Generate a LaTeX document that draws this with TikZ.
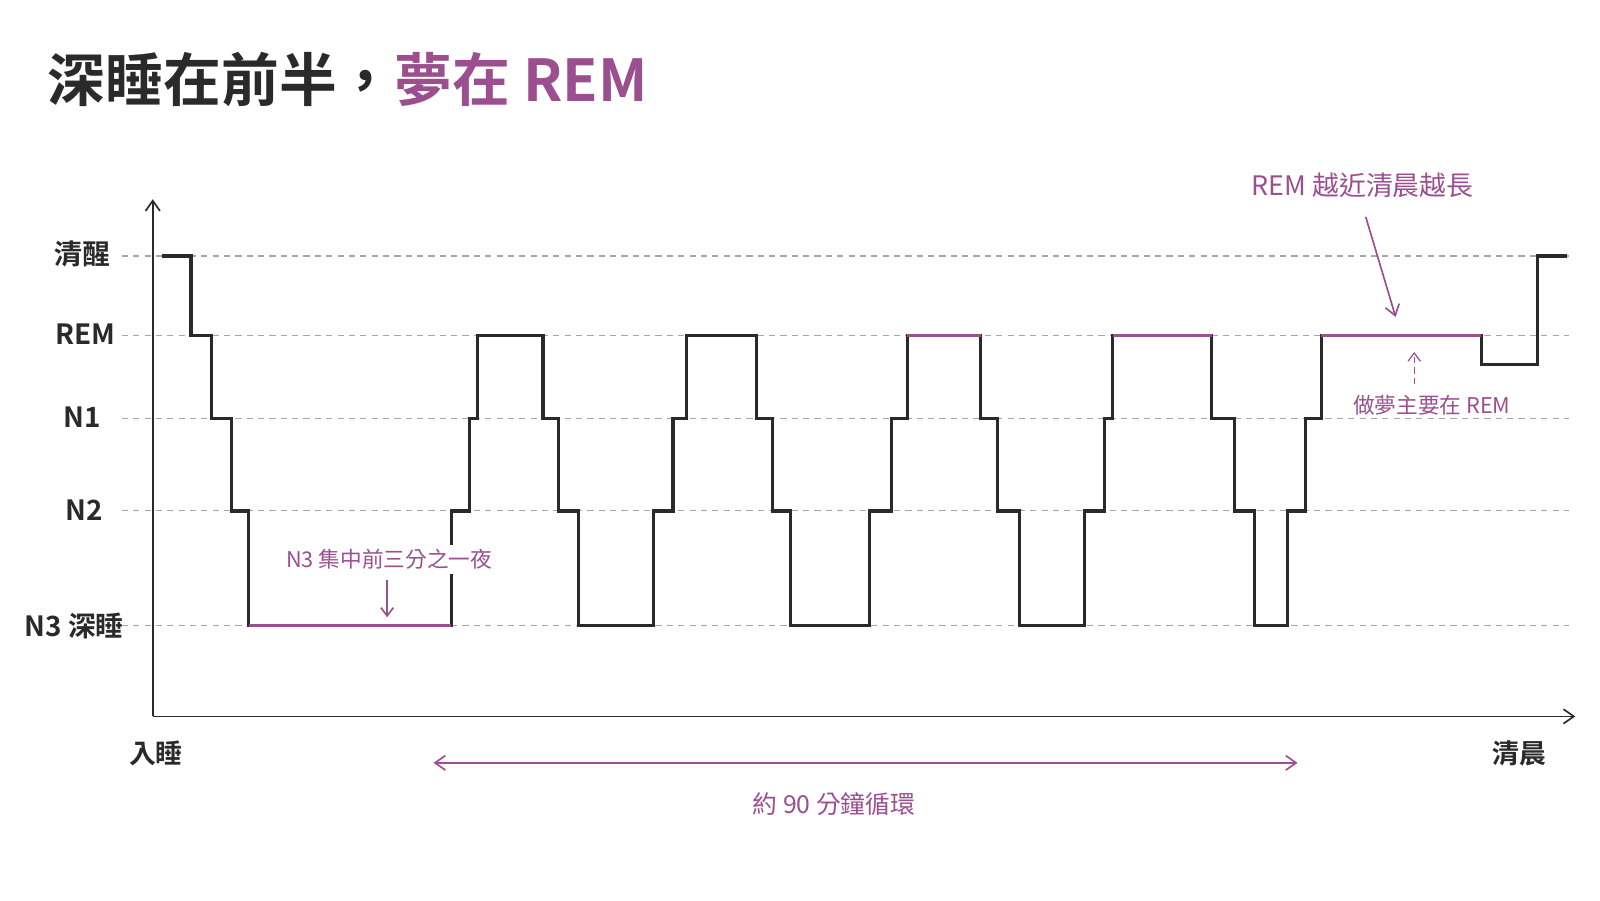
\documentclass[tikz,border=0pt]{standalone}
\usepackage{fontspec}
\setmainfont{Noto Sans CJK TC}
\newfontfamily\cjkb{Noto Sans CJK TC Bold}
\usetikzlibrary{arrows.meta}
\definecolor{plum}{HTML}{9B4F8E}
\definecolor{ink}{HTML}{2A2A2A}
\begin{document}
\begin{tikzpicture}[x=0.5pt,y=-0.5pt,
  lvl/.style={font=\cjkb\fontsize{13.5}{16}\selectfont,text=ink,anchor=east},
  ann/.style={font=\fontsize{10.5}{13}\selectfont,text=plum},
  grid/.style={gray!70,dash pattern=on 3pt off 2.5pt,line width=0.5pt},
  hyp/.style={ink,line width=1.5pt,line join=miter},
  hl/.style={plum,line width=1.8pt},
  axis/.style={ink,line width=0.8pt,-{Straight Barb[length=5pt,width=7pt]}}]
\useasboundingbox (0,0) rectangle (1550,872);
\fill[white] (0,0) rectangle (1550,872);
% title
\node[anchor=west,inner sep=0,font=\cjkb\fontsize{28}{32}\selectfont] (title) at (46,77) {\textcolor{ink}{深睡在前半，}\textcolor{plum}{夢在 REM}};
% grid
\foreach \y in {248,325,405,495,606}{\draw[grid] (118,\y) -- (1520,\y);}
% level labels
\node[lvl] (lw) at (114,246) {清醒};
\node[lvl] (lr) at (119,324) {REM};
\node[lvl] (l1) at (105,404) {N1};
\node[lvl] (l2) at (107,494) {N2};
\node[lvl] (l3) at (127,606) {N3 深睡};
% axes
\coordinate (o) at (148,694);
\coordinate (ytop) at (148,193);
\coordinate (xend) at (1526,694);
\draw[axis] (o) -- (ytop);
\draw[axis] (o) -- (xend);
% hypnogram
\draw[hyp] (157,248) -| (185,325) -| (205,405) -| (224,495) -| (241,606) -- (437,606)
 |- (455,495) |- (463,405) |- (526,325) |- (541,405) |- (560,495) |- (633,606)
 |- (652,495) |- (665,405) |- (733,325) |- (748,405) |- (766,495) |- (842,606)
 |- (864,495) |- (879,405) |- (950,325) |- (966,405) |- (988,495) |- (1051,606)
 |- (1070,495) |- (1078,405) |- (1174,325) |- (1196,405) |- (1215,495) |- (1247,606)
 |- (1265,495) |- (1280,405) |- (1435,325) |- (1489,353) |- (1518,248);
% highlights
\draw[hl] (241,606) -- (437,606);
\draw[hl] (879,325) -- (950,325);
\draw[hl] (1078,325) -- (1174,325);
\draw[hl] (1280,325) -- (1435,325);
% annotations
\node[ann,fill=white,inner sep=2pt] (a3) at (377,542) {N3 集中前三分之一夜};
\coordinate (a3t) at (375,598);
\draw[plum,line width=0.8pt,-{Straight Barb[length=4pt,width=6pt]}] (375,562) -- (a3t);
\node[ann,font=\fontsize{13}{16}\selectfont] (ar) at (1320,180) {REM 越近清晨越長};
\coordinate (art) at (1352,307);
\draw[plum,line width=0.8pt,-{Straight Barb[length=5pt,width=7pt]}] (1323,210) -- (art);
\node[ann] (ad) at (1387,393) {做夢主要在 REM};
\coordinate (adt) at (1370,341);
\draw[plum,line width=0.6pt,dash pattern=on 3pt off 2pt,-{Straight Barb[length=4pt,width=6pt]}] (1370,372) -- (adt);
% x labels
\node[font=\cjkb\fontsize{13}{16}\selectfont,text=ink] (sl) at (151,730) {入睡};
\node[font=\cjkb\fontsize{13}{16}\selectfont,text=ink] (mo) at (1472,730) {清晨};
\coordinate (c1) at (420,739);
\coordinate (c2) at (1257,739);
\draw[plum,line width=0.8pt,{Straight Barb[length=5pt,width=7pt]}-{Straight Barb[length=5pt,width=7pt]}] (c1) -- (c2);
\node[ann,font=\fontsize{12}{15}\selectfont] (cy) at (808,779) {約 90 分鐘循環};
\end{tikzpicture}
\end{document}
